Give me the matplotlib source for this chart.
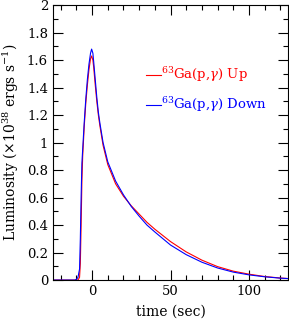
import matplotlib
matplotlib.use("Agg")
import matplotlib.pyplot as plt
import numpy as np
from matplotlib.ticker import MultipleLocator

plt.rcParams['font.family'] = ['DejaVu Serif']
plt.rcParams['mathtext.fontset'] = 'dejavuserif'

t_up = [-30, -10, -9, -8, -7.5, -7, -6.5, -6, -5, -4, -3, -2, -1, -0.3, 0.5, 1, 2, 3, 4, 5, 7, 10,
        15, 20, 25, 30, 35, 40, 50, 60, 70, 80, 90, 100, 110, 120, 125]
L_up = [0, 0, 0, 0.02, 0.12, 0.4, 0.72, 0.9, 1.12, 1.29, 1.42, 1.53, 1.61, 1.63, 1.60, 1.55, 1.42, 1.30,
        1.20, 1.12, 0.98, 0.84, 0.70, 0.61, 0.54, 0.48, 0.42, 0.37, 0.28, 0.205, 0.145, 0.098, 0.065,
        0.043, 0.026, 0.015, 0.011]

t_dn = [-30, -11, -10, -9, -8, -7.5, -7, -6.5, -6, -5, -4, -3, -2, -1, -0.3, 0.5, 1, 2, 3, 4, 5, 7, 10,
        15, 20, 25, 30, 35, 40, 50, 60, 70, 80, 90, 100, 110, 120, 125]
L_dn = [0, 0, 0.005, 0.02, 0.08, 0.3, 0.6, 0.85, 0.95, 1.15, 1.32, 1.46, 1.57, 1.65, 1.68, 1.65, 1.59, 1.46,
        1.33, 1.22, 1.14, 1.0, 0.86, 0.72, 0.62, 0.535, 0.465, 0.40, 0.35, 0.255, 0.185, 0.13, 0.088,
        0.058, 0.038, 0.024, 0.014, 0.011]

label_up = r'$^{63}$Ga(p,$\gamma$) Up'
label_dn = r'$^{63}$Ga(p,$\gamma$) Down'

fig = plt.figure(figsize=(2.89, 3.19), dpi=100)
ax = fig.add_axes([0.183, 0.122, 0.814, 0.862])

ax.plot(t_up, L_up, color='#ff0000', lw=0.8, label=label_up)
ax.plot(t_dn, L_dn, color='#0000ff', lw=0.8, label=label_dn)

ax.set_xlim(-25, 125)
ax.set_ylim(0, 2)
ax.xaxis.set_major_locator(MultipleLocator(50))
ax.xaxis.set_minor_locator(MultipleLocator(10))
ax.yaxis.set_minor_locator(MultipleLocator(0.1))
ax.tick_params(which='both', direction='in', top=True, right=True, labelsize=9.5, width=0.8)
ax.tick_params(which='major', length=7)
ax.tick_params(which='minor', length=3.5)
ax.set_yticks(np.arange(0, 2.01, 0.2))
ax.set_yticklabels(['0', '0.2', '0.4', '0.6', '0.8', '1', '1.2', '1.4', '1.6', '1.8', '2'])
for s in ax.spines.values():
    s.set_linewidth(0.8)

ax.set_xlabel('time (sec)', fontsize=10, labelpad=5)
ax.set_ylabel(r'Luminosity ($\times$10$^{38}$ ergs s$^{-1}$)', fontsize=10, labelpad=4)

leg = ax.legend(loc='upper left', bbox_to_anchor=(0.375, 0.80), frameon=False, fontsize=9.5,
                handlelength=1.1, handletextpad=0.0, labelspacing=0.85, labelcolor='linecolor',
                borderaxespad=0)

fig.savefig('out.png', dpi=100)
